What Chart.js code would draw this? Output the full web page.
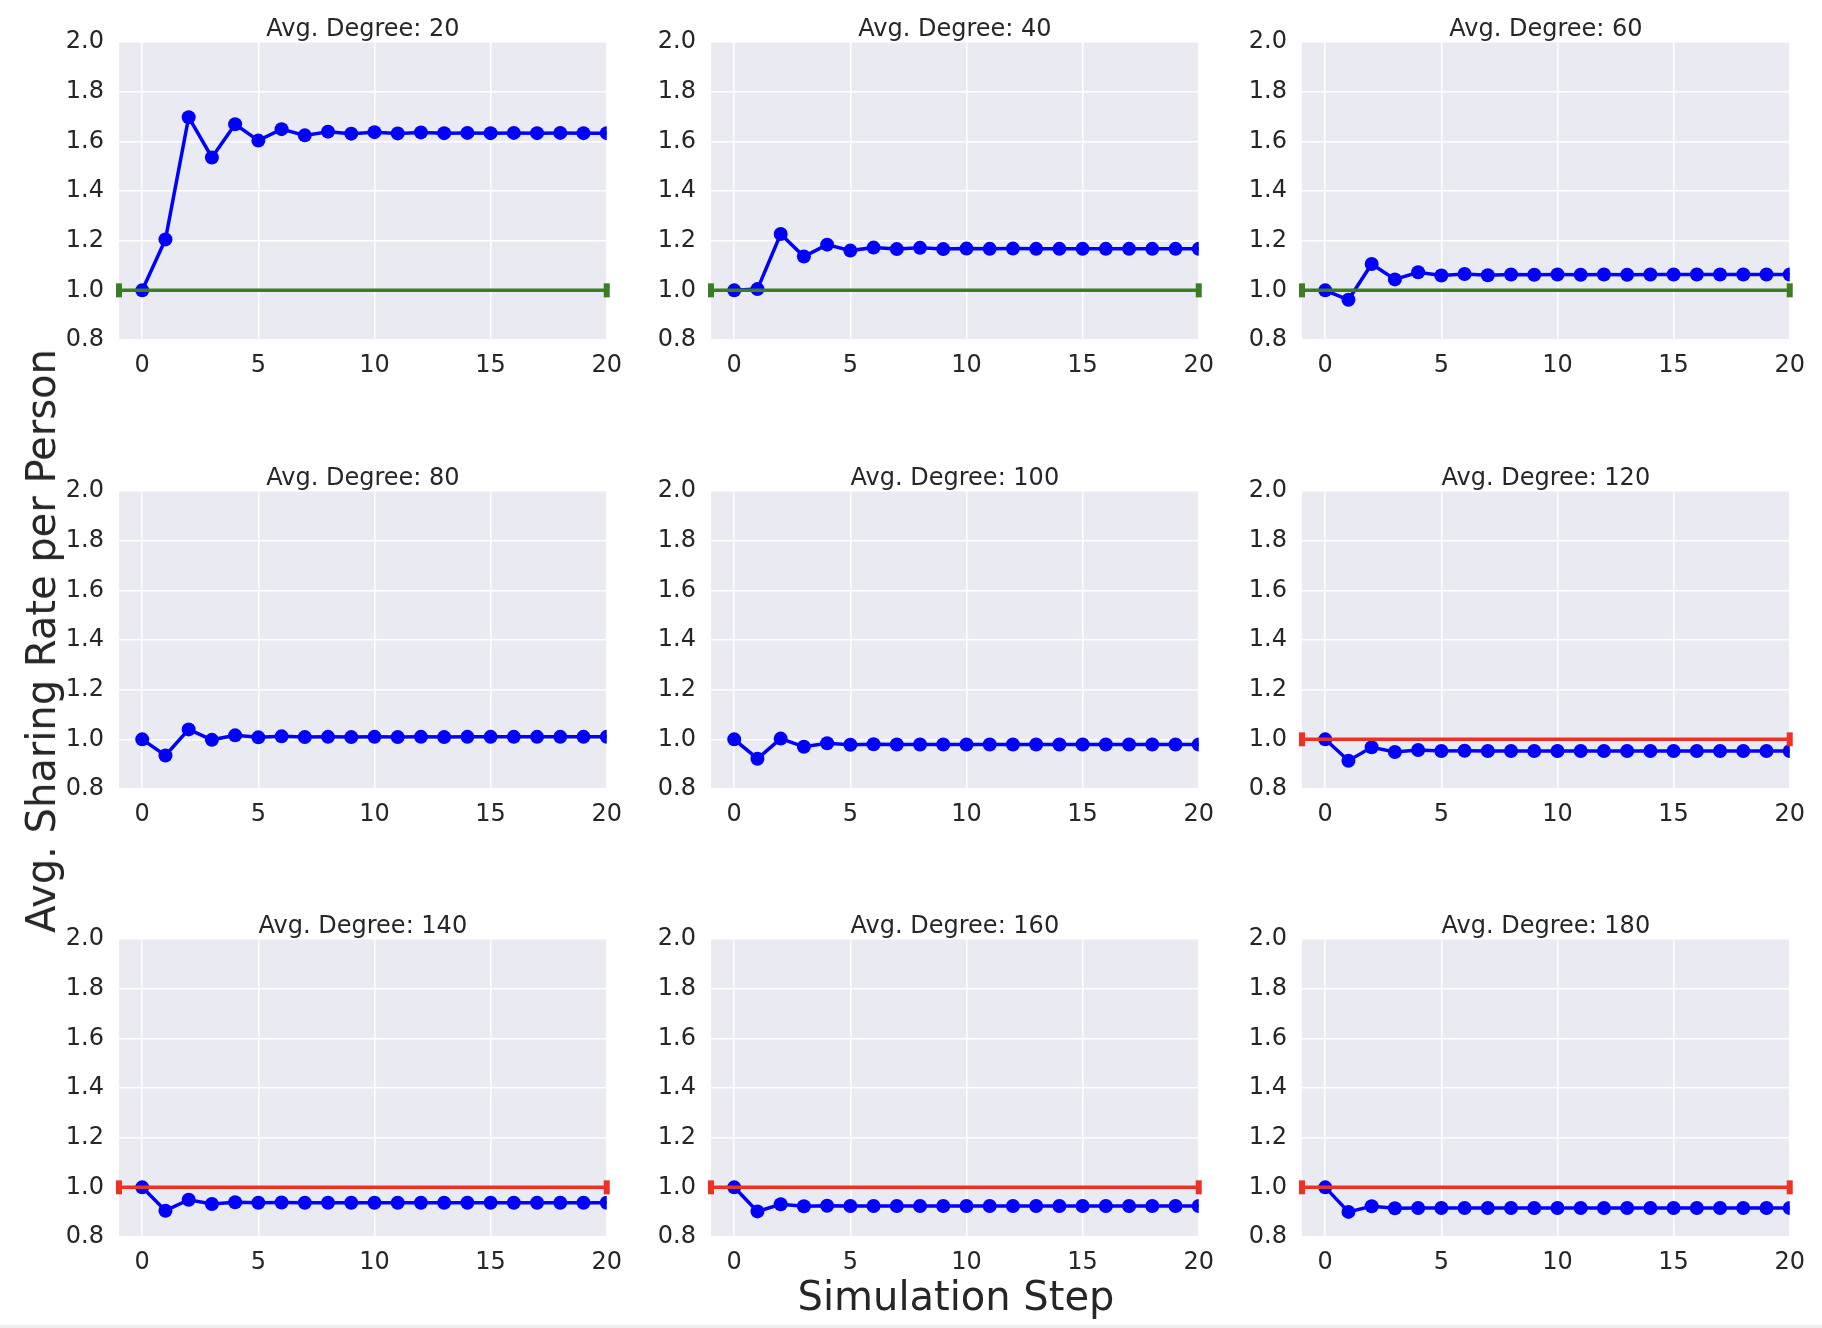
<!DOCTYPE html>
<html lang="en">
<head>
  <meta charset="UTF-8">
  <title>Avg. Sharing Rate per Person</title>
  <script src="https://cdn.jsdelivr.net/npm/chart.js"></script>
  <style>
    body { margin: 0; background: #fff; font-family: "DejaVu Sans", sans-serif; }
    #wrap { position: relative; width: 1822px; height: 1328px; overflow: hidden; }
    canvas { position: absolute; }
    .axis-title { position: absolute; color: #262626; font-size: 40px; white-space: nowrap; transform: translate(-50%, -50%); }
    #ytitle { left: 41px; top: 641px; transform: translate(-50%, -50%) rotate(-90deg); }
    #xtitle { left: 956px; top: 1296px; }
    #bottomline { position: absolute; left: 0; bottom: 0; width: 1822px; height: 3px; background: #efefef; }
  </style>
</head>
<body>
  <div id="wrap">
    <div class="axis-title" id="ytitle">Avg. Sharing Rate per Person</div>
    <div class="axis-title" id="xtitle">Simulation Step</div>
    <div id="bottomline"></div>
  </div>

  <script>
    // data
    const degrees = [20, 40, 60, 80, 100, 120, 140, 160, 180];
    const steps = [0,1,2,3,4,5,6,7,8,9,10,11,12,13,14,15,16,17,18,19,20];

    const rate20  = [1.00,1.205,1.697,1.535,1.669,1.603,1.649,1.624,1.639,1.631,1.637,1.632,1.636,1.633,1.634,1.633,1.634,1.633,1.634,1.633,1.633];
    const rate40  = [1.00,1.005,1.227,1.136,1.184,1.160,1.172,1.166,1.171,1.166,1.168,1.167,1.168,1.167,1.167,1.167,1.167,1.167,1.167,1.167,1.167];
    const rate60  = [1.00,0.962,1.106,1.044,1.073,1.060,1.066,1.061,1.064,1.063,1.064,1.063,1.064,1.063,1.064,1.064,1.064,1.064,1.064,1.064,1.064];
    const rate80  = [1.00,0.935,1.040,0.998,1.016,1.008,1.012,1.009,1.010,1.009,1.010,1.009,1.010,1.009,1.010,1.010,1.010,1.010,1.010,1.010,1.010];
    const rate100 = [1.00,0.922,1.003,0.970,0.984,0.978,0.980,0.979,0.979,0.979,0.979,0.979,0.979,0.979,0.979,0.979,0.979,0.979,0.979,0.979,0.979];
    const rate120 = [1.00,0.914,0.968,0.949,0.957,0.953,0.954,0.953,0.953,0.953,0.953,0.953,0.953,0.953,0.953,0.953,0.953,0.953,0.953,0.953,0.953];
    const rate140 = [1.00,0.906,0.950,0.933,0.940,0.938,0.939,0.938,0.938,0.938,0.938,0.938,0.938,0.938,0.938,0.938,0.938,0.938,0.938,0.938,0.938];
    const rate160 = [1.00,0.903,0.932,0.924,0.926,0.925,0.925,0.925,0.925,0.925,0.925,0.925,0.925,0.925,0.925,0.925,0.925,0.925,0.925,0.925,0.925];
    const rate180 = [1.00,0.901,0.924,0.916,0.917,0.917,0.917,0.917,0.917,0.917,0.917,0.917,0.917,0.917,0.917,0.917,0.917,0.917,0.917,0.917,0.917];
    const rates = [rate20, rate40, rate60, rate80, rate100, rate120, rate140, rate160, rate180];

    // baseline of 1.0 drawn from x=-1 to 20 where the rate ends above or below it
    const baseline = 1.0;
    const baselineX = [-1, 20];
    const trend = ['above', 'above', 'above', 'none', 'none', 'below', 'below', 'below', 'below'];

    const xTicks = [0, 5, 10, 15, 20];
    const yMin = 0.8, yMax = 2.0, yStep = 0.2;

    // layout
    const plotLefts = [119, 711, 1302];
    const plotTops = [42, 491, 939];
    const plotW = 494, plotH = 298;
    const yAxisW = 80, xAxisH = 50, titleH = 31, padRight = 20;
    const ink = '#262626';
    const trendColor = { above: '#3a7d22', below: '#ee3124' };

    const wrap = document.getElementById('wrap');

    degrees.forEach((deg, i) => {
      const col = i % 3, row = Math.floor(i / 3);
      const canvas = document.createElement('canvas');
      canvas.width = yAxisW + plotW + padRight;
      canvas.height = titleH + plotH + xAxisH;
      canvas.style.left = (plotLefts[col] - yAxisW) + 'px';
      canvas.style.top = (plotTops[row] - titleH) + 'px';
      wrap.insertBefore(canvas, wrap.firstChild);

      const datasets = [];
      if (trend[i] !== 'none') {
        datasets.push({
          data: baselineX.map(x => ({ x: x, y: baseline })),
          borderColor: trendColor[trend[i]],
          backgroundColor: trendColor[trend[i]],
          borderWidth: 3.5,
          pointStyle: 'line',
          rotation: 90,
          pointRadius: 7,
          pointBorderWidth: 6,
          clip: false,
          order: 0
        });
      }
      datasets.push({
        data: rates[i].map((v, k) => ({ x: steps[k], y: v })),
        borderColor: '#0000ff',
        backgroundColor: '#0000ff',
        borderWidth: 3.5,
        pointRadius: 7,
        pointBorderWidth: 0,
        tension: 0,
        order: 1
      });

      new Chart(canvas.getContext('2d'), {
        type: 'line',
        data: { datasets: datasets },
        plugins: [{
          id: 'plotBg',
          beforeDraw(chart) {
            const a = chart.chartArea;
            chart.ctx.save();
            chart.ctx.fillStyle = '#eaeaf2';
            chart.ctx.fillRect(a.left, a.top, a.right - a.left, a.bottom - a.top);
            chart.ctx.restore();
          }
        }],
        options: {
          responsive: false,
          animation: false,
          devicePixelRatio: 1,
          layout: { padding: { left: 0, right: padRight, top: 0, bottom: 0 } },
          plugins: {
            legend: { display: false },
            tooltip: { enabled: false },
            title: {
              display: true,
              text: 'Avg. Degree: ' + deg,
              fullSize: false,
              color: ink,
              font: { family: 'DejaVu Sans', size: 24, weight: 'normal', lineHeight: 1.2 },
              padding: { top: 4, bottom: titleH - 24 * 1.2 - 4 }
            }
          },
          scales: {
            x: {
              type: 'linear',
              min: -1,
              max: 20,
              afterFit(scale) { scale.height = xAxisH; },
              afterBuildTicks(scale) { scale.ticks = xTicks.map(v => ({ value: v })); },
              grid: { color: '#ffffff', lineWidth: 1.5, drawTicks: false },
              border: { display: false },
              ticks: { color: ink, padding: 11, maxRotation: 0, font: { family: 'DejaVu Sans', size: 24 } }
            },
            y: {
              min: yMin,
              max: yMax,
              afterFit(scale) { scale.width = yAxisW; },
              grid: { color: '#ffffff', lineWidth: 1.5, drawTicks: false },
              border: { display: false },
              ticks: {
                stepSize: yStep,
                color: ink,
                padding: 15,
                font: { family: 'DejaVu Sans', size: 24 },
                callback: v => v.toFixed(1)
              }
            }
          }
        }
      });
    });
  </script>
</body>
</html>
